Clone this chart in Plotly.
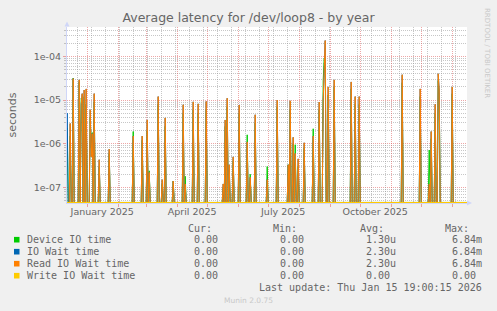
import pandas as pd
import plotly.graph_objects as go

# ---------------- data (daily averages, seconds) ----------------
SPIKE_DAYS = [
    "2024-12-12", "2024-12-15", "2024-12-18", "2024-12-24", "2024-12-26", "2024-12-27",
    "2024-12-29", "2024-12-31", "2025-01-04", "2025-01-05", "2025-01-06", "2025-01-08",
    "2025-01-13", "2025-01-23", "2025-02-16", "2025-02-25", "2025-03-02", "2025-03-04",
    "2025-03-13", "2025-03-17", "2025-03-20", "2025-03-28", "2025-04-07", "2025-04-09",
    "2025-04-17", "2025-04-22", "2025-04-30", "2025-05-17", "2025-05-19", "2025-05-21",
    "2025-05-23", "2025-05-27", "2025-06-02", "2025-06-10", "2025-06-13", "2025-06-18",
    "2025-06-30", "2025-07-10", "2025-07-21", "2025-07-23", "2025-07-26", "2025-07-28",
    "2025-07-31", "2025-08-06", "2025-08-15", "2025-08-21", "2025-08-25", "2025-08-26",
    "2025-08-27", "2025-08-30", "2025-09-05", "2025-09-22", "2025-09-26", "2025-09-30",
    "2025-11-12", "2025-11-30", "2025-12-09", "2025-12-11", "2025-12-15", "2025-12-18",
    "2025-12-19", "2026-01-01",
]
DEVICE_IO = [
    2.3e-6, 1.5e-6, 3.2e-5, 2.6e-5, 1.1e-5, 9e-6,
    1.2e-5, 8e-6, 4e-6, 8e-7, 1.8e-6, 9e-6,
    3e-7, 6e-7, 1.9e-6, 1.2e-6, 2e-6, 2.4e-7,
    8e-6, 1.2e-7, 2.5e-6, 1.4e-7, 5e-6, 1.8e-7,
    6e-6, 5e-6, 6e-6, 1e-7, 2.5e-6, 7e-6,
    2.5e-7, 4e-7, 5e-6, 1.6e-6, 2e-7, 3e-6,
    3e-7, 7e-6, 3.3e-7, 6e-6, 1e-6, 9.5e-7,
    3e-7, 8e-7, 2.2e-6, 6e-6, 2.8e-5, 9e-5,
    6e-5, 1.3e-5, 2e-5, 1.8e-5, 8e-6, 8e-6,
    2.5e-5, 1.2e-5, 7.2e-7, 1.3e-6, 5e-6, 2.8e-5,
    1.2e-5, 1.4e-5,
]
IO_WAIT = [
    5e-6, 2.9e-6, 3.1e-5, 2.9e-5, 8e-6, 1.4e-5,
    1.7e-5, 1.8e-5, 6e-6, 5e-7, 1.7e-6, 1.4e-5,
    4.3e-7, 7.5e-7, 1.5e-6, 1.5e-6, 3.5e-6, 2.2e-7,
    1.2e-5, 1.5e-7, 3.9e-6, 1.4e-7, 7.8e-6, 1.2e-7,
    9.1e-6, 8.2e-6, 9.3e-6, 1.2e-7, 3.5e-6, 1.1e-5,
    3.3e-7, 5e-7, 7.7e-6, 1.1e-6, 1.7e-7, 4.6e-6,
    1.5e-7, 1e-5, 3.3e-7, 9.6e-6, 1.4e-6, 6e-7,
    4.5e-7, 1.05e-6, 1.5e-6, 9e-6, 1e-5, 1.2e-4,
    2.3e-4, 2e-5, 2.9e-5, 2.6e-5, 1.2e-5, 1.2e-5,
    3.8e-5, 1.8e-5, 1.2e-7, 1.9e-6, 8e-6, 4e-5,
    1.7e-5, 2e-5,
]
READ_WAIT = [
    0, 2.9e-6, 3.1e-5, 2.9e-5, 8e-6, 1.4e-5,
    1.7e-5, 1.8e-5, 6e-6, 5e-7, 1.7e-6, 1.4e-5,
    4.3e-7, 7.5e-7, 1.5e-6, 1.5e-6, 3.5e-6, 2.2e-7,
    1.2e-5, 1.5e-7, 3.9e-6, 1.4e-7, 7.8e-6, 1.2e-7,
    9.1e-6, 8.2e-6, 9.3e-6, 1.2e-7, 3.5e-6, 1.1e-5,
    3.3e-7, 5e-7, 7.7e-6, 1.1e-6, 1.7e-7, 4.6e-6,
    1.5e-7, 1e-5, 3.3e-7, 9.6e-6, 1.4e-6, 6e-7,
    4.5e-7, 1.05e-6, 1.5e-6, 9e-6, 1e-5, 1.2e-4,
    2.3e-4, 2e-5, 2.9e-5, 2.6e-5, 1.2e-5, 1.2e-5,
    3.8e-5, 1.8e-5, 1.2e-7, 1.9e-6, 8e-6, 4e-5,
    1.7e-5, 2e-5,
]
WRITE_WAIT = [0] * len(SPIKE_DAYS)

SERIES_NAMES = ["Device IO time", "IO Wait time", "Read IO Wait time", "Write IO Wait time"]
SERIES_COLORS = ["#00CC00", "#0066B3", "#FF8000", "#FFCC00"]
CUR = ["0.00", "0.00", "0.00", "0.00"]
MIN = ["0.00", "0.00", "0.00", "0.00"]
AVG = ["1.30u", "2.30u", "2.30u", "0.00"]
MAX = ["6.84m", "6.84m", "6.84m", "0.00"]

X_LABEL_DATES = ["2025-01-16", "2025-04-16", "2025-07-16", "2025-10-16"]
X_LABELS = ["January 2025", "April 2025", "July 2025", "October 2025"]
Y_TICKS = [1e-7, 1e-6, 1e-5, 1e-4]
Y_LABELS = ["1e-07", "1e-06", "1e-05", "1e-04"]

T_START = "2024-12-11 19:00"
T_END = "2026-01-15 19:00"
Y_LOG_MIN, Y_LOG_MAX = -7.357, -3.327
FLOOR = 10 ** (Y_LOG_MIN + 0.012)  # zero values on a log axis sit on the bottom edge

days = pd.date_range("2024-12-11", "2026-01-16", freq="D")
day_str = [d.strftime("%Y-%m-%d") for d in days]
idx = {d: i for i, d in enumerate(SPIKE_DAYS)}


def daily(vals):
    out = []
    for d in day_str:
        v = vals[idx[d]] if d in idx else 0
        out.append(v if v > 0 else FLOOR)
    return out


fig = go.Figure()
for vals, name, col in zip([DEVICE_IO, IO_WAIT, READ_WAIT, WRITE_WAIT], SERIES_NAMES, SERIES_COLORS):
    fig.add_trace(go.Scatter(x=days, y=daily(vals), mode="lines", name=name,
                             line=dict(color=col, width=1), hoverinfo="skip",
                             showlegend=False))

# helper traces for the overlay grid axes
fig.add_trace(go.Scatter(x=[T_START, T_END], y=[FLOOR, FLOOR], xaxis="x2", mode="lines",
                         line=dict(color="rgba(0,0,0,0)"), showlegend=False, hoverinfo="skip"))
fig.add_trace(go.Scatter(x=[T_START, T_END], y=[FLOOR, FLOOR], xaxis="x3", mode="lines",
                         line=dict(color="rgba(0,0,0,0)"), showlegend=False, hoverinfo="skip"))

W, H = 497, 311
L, R, T, B = 67, 30, 27, 108
PW, PH = W - L - R, H - T - B
FONT = "DejaVu Sans"
MONO = "DejaVu Sans Mono"
TXT = "#666666"
GRID = "rgba(143,143,143,0.5)"
MGRID = "rgba(222,79,79,0.5)"
AXIS = "#CFD6F8"


def px(xp):
    return (xp - L) / PW


def py(yp):
    return (H - B - yp) / PH


fig.update_layout(
    width=W, height=H, margin=dict(l=L, r=R, t=T, b=B),
    paper_bgcolor="#F0F0F0", plot_bgcolor="#FFFFFF",
    title=dict(text="Average latency for /dev/loop8 - by year", x=0.5, xref="container",
               xanchor="center", y=1 - 18 / H, yref="container", yanchor="middle",
               font=dict(family=FONT, size=12.5, color=TXT)),
    xaxis=dict(type="date", range=[T_START, T_END], tickmode="array", tickvals=X_LABEL_DATES,
               ticktext=X_LABELS, ticks="", showgrid=False, zeroline=False,
               showline=True, linecolor=AXIS, linewidth=1,
               tickfont=dict(family=FONT, size=9.5, color=TXT)),
    xaxis2=dict(type="date", range=[T_START, T_END], overlaying="x", anchor="y",
                tick0="2024-12-01", dtick="M1", showticklabels=False,
                showgrid=True, gridcolor=MGRID, griddash="1px,1px", gridwidth=1,
                ticks="outside", ticklen=3, tickcolor=MGRID, showline=False, zeroline=False),
    xaxis3=dict(type="date", range=[T_START, T_END], overlaying="x", anchor="y",
                tick0="2024-12-22", dtick=14 * 86400000, showticklabels=False,
                showgrid=True, gridcolor=GRID, griddash="1px,1px", gridwidth=1,
                ticks="", showline=False, zeroline=False),
    yaxis=dict(type="log", range=[Y_LOG_MIN, Y_LOG_MAX], tickmode="array", tickvals=Y_TICKS,
               ticktext=Y_LABELS, showgrid=True, gridcolor=MGRID, griddash="1px,1px",
               ticks="outside", ticklen=3, tickcolor=MGRID, zeroline=False,
               showline=True, linecolor=AXIS, linewidth=1,
               tickfont=dict(family=FONT, size=9.5, color=TXT),
               minor=dict(tickmode="array",
                          tickvals=[k * 10 ** e for e in range(-8, -3) for k in range(2, 10)],
                          showgrid=True, gridcolor=GRID, griddash="1px,1px",
                          ticks="outside", ticklen=2, tickcolor=GRID)),
)

ann = []
ann.append(dict(text="seconds", x=px(11.5), y=py(115), xref="paper", yref="paper",
                textangle=-90, showarrow=False, font=dict(family=FONT, size=11, color=TXT),
                xanchor="center", yanchor="middle"))
ann.append(dict(text="RRDTOOL / TOBI OETIKER", x=px(487), y=py(53), xref="paper", yref="paper",
                textangle=90, showarrow=False, font=dict(family=FONT, size=7, color="#C8C8C8"),
                xanchor="center", yanchor="middle"))
ann.append(dict(text="Munin 2.0.75", x=px(248), y=py(300), xref="paper", yref="paper",
                showarrow=False, font=dict(family=FONT, size=7.5, color="#C8C8C8"),
                xanchor="center", yanchor="middle"))

mono = dict(family=MONO, size=10, color=TXT)
for txt, xr in zip(["Cur:", "Min:", "Avg:", "Max:"], [212.7, 298.3, 385, 470]):
    ann.append(dict(text=txt, x=px(xr + 1), y=py(228.3), xref="paper", yref="paper",
                    showarrow=False, font=mono, xanchor="right", yanchor="middle"))

row_y = [239.7, 251.7, 263.7, 275.7]
shapes = []
for i, name in enumerate(SERIES_NAMES):
    yy = row_y[i]
    shapes.append(dict(type="rect", xref="paper", yref="paper", x0=px(14), x1=px(19.5),
                       y0=py(yy + 2.8), y1=py(yy - 2.8), fillcolor=SERIES_COLORS[i], line_width=0))
    ann.append(dict(text=name, x=px(25.3), y=py(yy), xref="paper", yref="paper",
                    showarrow=False, font=mono, xanchor="left", yanchor="middle"))
    avg_r = 396.7 if AVG[i].endswith(("u", "m")) else 390.7
    max_r = 482.7 if MAX[i].endswith(("u", "m")) else 476.7
    for txt, xr in zip([CUR[i], MIN[i], AVG[i], MAX[i]], [219.3, 305, avg_r, max_r]):
        ann.append(dict(text=txt, x=px(xr + 1), y=py(yy), xref="paper", yref="paper",
                        showarrow=False, font=mono, xanchor="right", yanchor="middle"))

ann.append(dict(text="Last update: Thu Jan 15 19:00:15 2026", x=px(483.7), y=py(287.7),
                xref="paper", yref="paper", showarrow=False, font=mono,
                xanchor="right", yanchor="middle"))

# axis arrows
shapes.append(dict(type="path", xref="paper", yref="paper",
                   path=f"M {px(64.5)},{py(26.5)} L {px(69.5)},{py(26.5)} L {px(67)},{py(21.5)} Z",
                   fillcolor=AXIS, line_width=0))
shapes.append(dict(type="path", xref="paper", yref="paper",
                   path=f"M {px(467)},{py(200.5)} L {px(467)},{py(205.5)} L {px(472)},{py(203)} Z",
                   fillcolor=AXIS, line_width=0))

fig.update_layout(annotations=ann, shapes=shapes)
fig.write_html("out.html")
